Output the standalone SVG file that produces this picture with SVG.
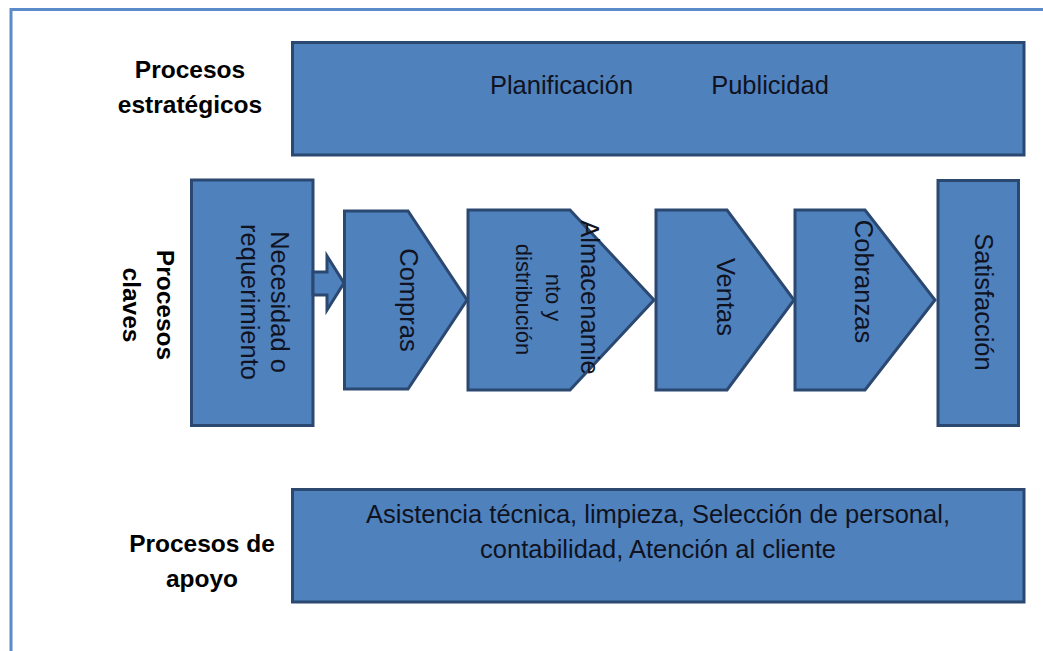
<svg xmlns="http://www.w3.org/2000/svg" width="1043" height="651" viewBox="0 0 1043 651">
<style>
.shape{fill:#4f81bd;stroke:#2b4870;stroke-width:3;stroke-linejoin:miter}
.lbl{font-family:"Liberation Sans",Arial,sans-serif;font-size:24.5px;font-weight:bold;fill:#000;text-anchor:middle}
.t{font-family:"Liberation Sans",Arial,sans-serif;font-size:25.5px;fill:#10131f;text-anchor:middle}
.ts{font-family:"Liberation Sans",Arial,sans-serif;font-size:22px;fill:#10131f;text-anchor:middle}
</style>
<rect width="1043" height="651" fill="#fff"/>
<path d="M11,651 V9.5 H1043" fill="none" stroke="#5b8bc8" stroke-width="3"/>

<g id="label-estrategicos">
<text class="lbl" x="190" y="78">Procesos</text>
<text class="lbl" x="190" y="113">estratégicos</text>
</g>
<g id="label-claves">
<text class="lbl" transform="translate(157,305) rotate(90)">Procesos</text>
<text class="lbl" transform="translate(123,305) rotate(90)">claves</text>
</g>
<g id="label-apoyo">
<text class="lbl" x="202" y="552">Procesos de</text>
<text class="lbl" x="202" y="587">apoyo</text>
</g>

<g id="estrategicos">
<rect class="shape" x="292.5" y="42.5" width="731.5" height="112.5"/>
<text class="t" x="561.5" y="94">Planificación</text>
<text class="t" x="770" y="94">Publicidad</text>
</g>

<g id="necesidad">
<rect class="shape" x="191.5" y="180" width="121.5" height="245.5"/>
<text class="t" transform="translate(271,302) rotate(90)">Necesidad o</text>
<text class="t" transform="translate(241,302) rotate(90)">requerimiento</text>
</g>

<g id="connectors">
<polygon class="shape" points="313,272 327,272 327,256 344,283 327,310 327,295 313,295"/>
</g>

<g id="compras">
<polygon class="shape" points="344.5,211 408,211 467,300 408,389 344.5,389"/>
<text class="t" transform="translate(400,300) rotate(90)">Compras</text>
</g>

<g id="almacenamiento">
<polygon class="shape" points="468,210 570,210 654,300 570,390 468,390"/>
<text class="t" transform="translate(581,297.5) rotate(90)">Almacenamie</text>
<text class="ts" transform="translate(546,297.5) rotate(90)">nto y</text>
<text class="ts" transform="translate(516,299.5) rotate(90)">distribución</text>
</g>

<g id="ventas">
<polygon class="shape" points="656,210 727,210 794,300 727,390 656,390"/>
<text class="t" transform="translate(717,297) rotate(90)">Ventas</text>
</g>

<g id="cobranzas">
<polygon class="shape" points="795,210 865,210 935,300 865,390 795,390"/>
<text class="t" transform="translate(855,281.5) rotate(90)">Cobranzas</text>
</g>

<g id="satisfaccion">
<rect class="shape" x="938" y="180.5" width="80.5" height="245"/>
<text class="t" transform="translate(975,302) rotate(90)">Satisfacción</text>
</g>

<g id="apoyo">
<rect class="shape" x="292.5" y="489.5" width="731.5" height="112.5"/>
<text class="t" x="658" y="523">Asistencia técnica, limpieza, Selección de personal,</text>
<text class="t" x="658" y="558">contabilidad, Atención al cliente</text>
</g>
</svg>
